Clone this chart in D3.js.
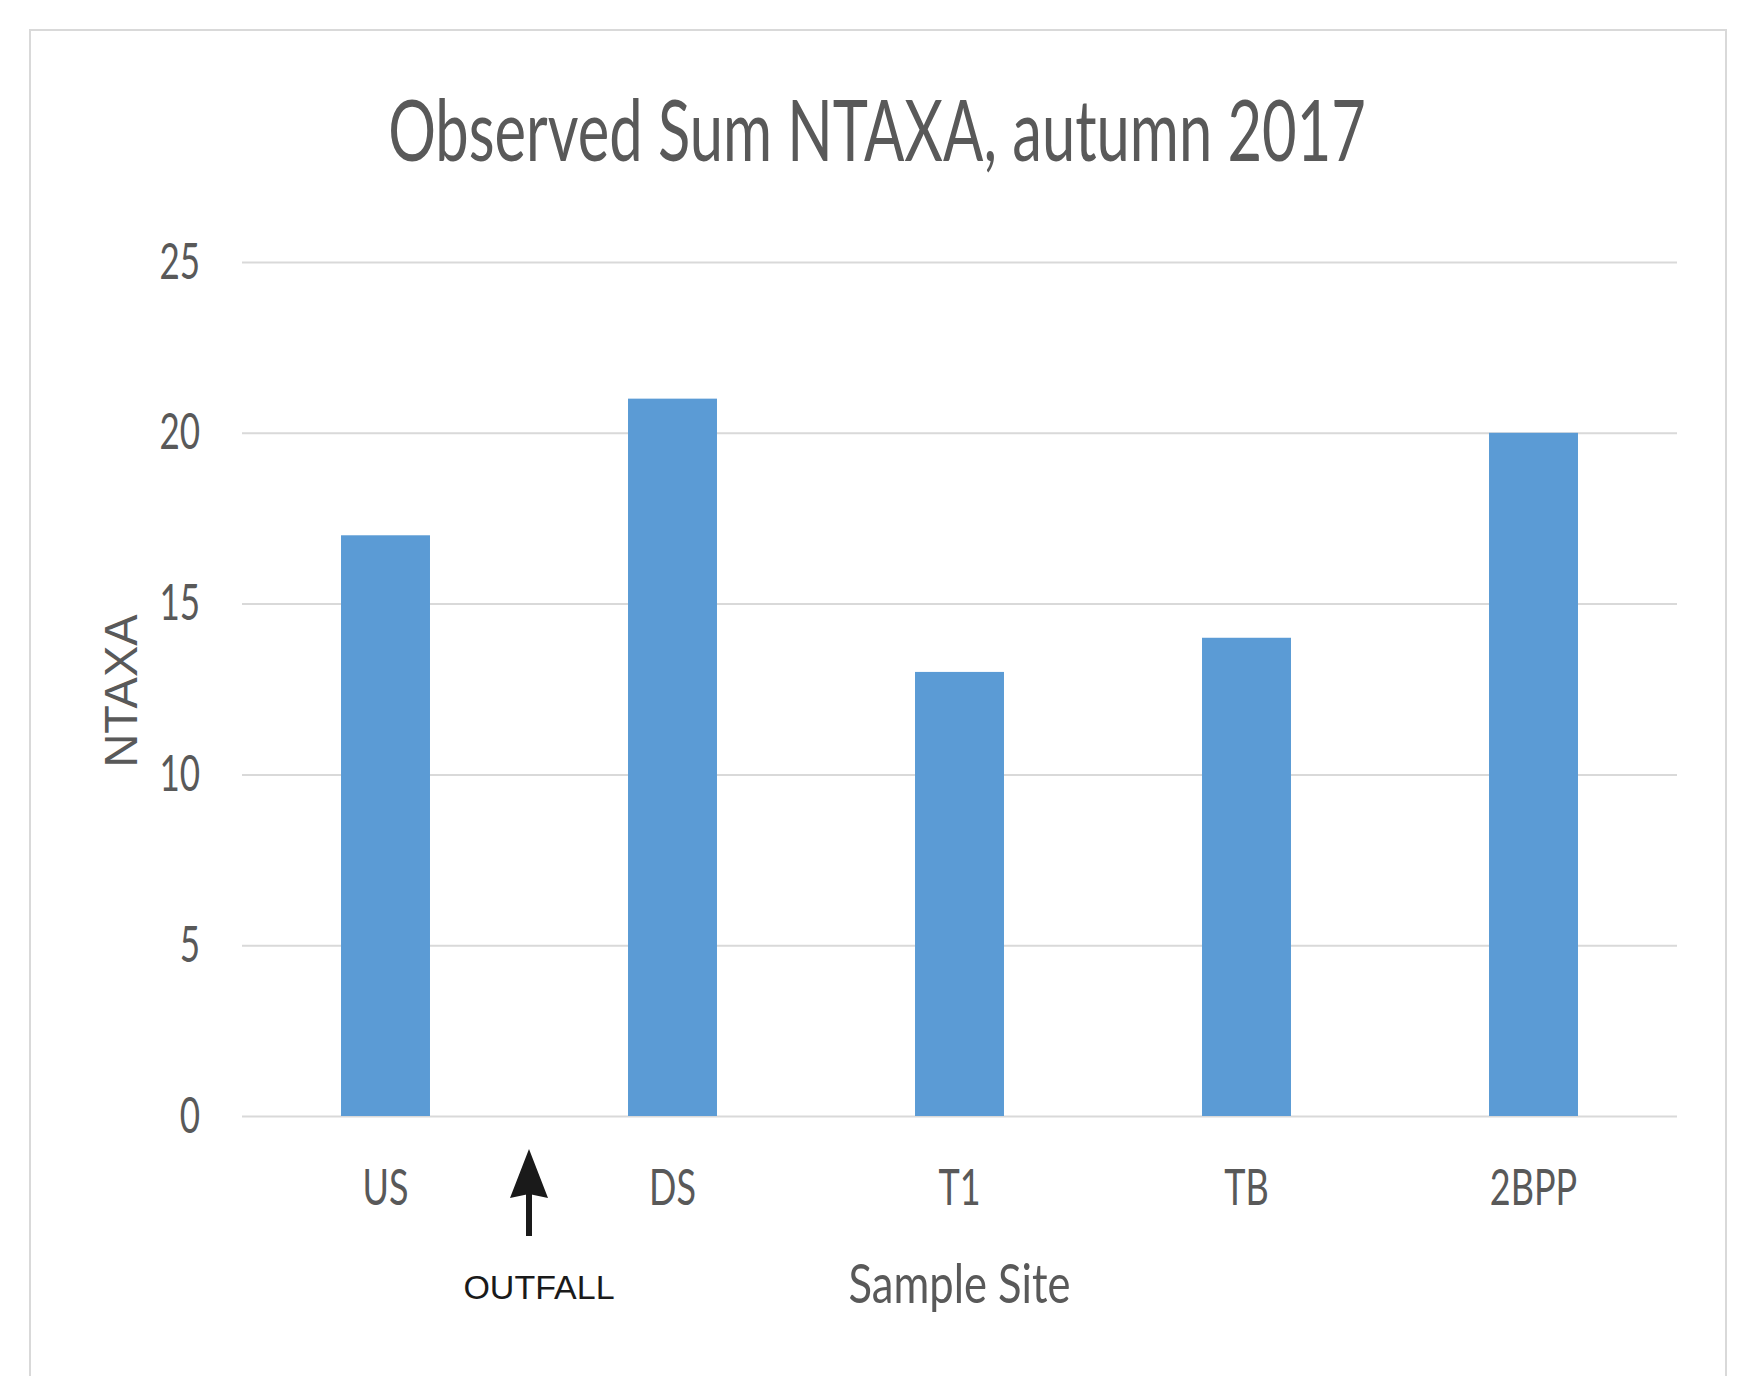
<!DOCTYPE html>
<html>
<head>
<meta charset="utf-8">
<script src="https://cdn.jsdelivr.net/npm/d3@7"></script>
<style>
  body { margin: 0; background: #fff; }
  .tick text { font-family: Lato, "Noto Sans", sans-serif; fill: #595959; }
</style>
</head>
<body>
<script>
// data
const sites = ["US", "DS", "T1", "TB", "2BPP"];
const ntaxa = [17, 21, 13, 14, 20];
const yTicks = [0, 5, 10, 15, 20, 25];

const chartTitle = "Observed Sum NTAXA, autumn 2017";
const xAxisLabel = "Sample Site";
const yAxisLabel = "NTAXA";
const noteLabel = "OUTFALL";

// width and height
const w = 1757;
const h = 1376;
const margin = { top: 262, right: 80, bottom: 260, left: 242 };

const dataset = sites.map((s, i) => ({ site: s, value: ntaxa[i] }));

// squeeze text horizontally, like the narrow font in the original
const squeeze = (sel, factor) => {
  sel.each(function () {
    const len = this.getComputedTextLength();
    d3.select(this)
      .attr("textLength", len * factor)
      .attr("lengthAdjust", "spacingAndGlyphs");
  });
};

// centred text narrowed to a target width with a scale transform
const narrowText = (x, y, size, target, label) => {
  const t = svg
    .append("text")
    .attr("text-anchor", "middle")
    .attr("font-family", "Lato, sans-serif")
    .attr("font-size", size)
    .attr("fill", "#595959")
    .text(label);
  const k = target / t.node().getComputedTextLength();
  t.attr("transform", `translate(${x},${y}) scale(${k},1)`);
  return t;
};

const svg = d3
  .select("body")
  .append("svg")
  .attr("width", w)
  .attr("height", h);

// outer chart border
svg
  .append("rect")
  .attr("x", 30)
  .attr("y", 30)
  .attr("width", 1696)
  .attr("height", 1400)
  .attr("fill", "#fff")
  .attr("stroke", "#d9d9d9")
  .attr("stroke-width", 2);

// scales
const xScale = d3
  .scaleBand()
  .domain(sites)
  .range([margin.left, w - margin.right])
  .paddingInner(0.69)
  .paddingOuter(0.345);

const yScale = d3
  .scaleLinear()
  .domain([0, 25])
  .range([h - margin.bottom, margin.top]);

// y axis with gridlines
const yAxis = d3
  .axisLeft(yScale)
  .tickValues(yTicks)
  .tickSize(-(w - margin.left - margin.right))
  .tickPadding(42);

const gy = svg
  .append("g")
  .attr("class", "y axis")
  .attr("transform", `translate(${margin.left},0)`)
  .call(yAxis);

gy.select(".domain").remove();
gy.selectAll(".tick line").attr("stroke", "#d9d9d9").attr("stroke-width", 2);
gy.selectAll(".tick text").attr("font-size", 50);
squeeze(gy.selectAll(".tick text"), 0.7);

// bars
svg
  .append("g")
  .attr("id", "bars")
  .selectAll("rect")
  .data(dataset)
  .enter()
  .append("rect")
  .attr("x", (d) => xScale(d.site))
  .attr("y", (d) => yScale(d.value))
  .attr("width", xScale.bandwidth())
  .attr("height", (d) => yScale(0) - yScale(d.value))
  .attr("fill", "#5b9bd5");

// x axis
const xAxis = d3.axisBottom(xScale).tickSize(0);

const gx = svg
  .append("g")
  .attr("class", "x axis")
  .attr("transform", `translate(0, ${h - margin.bottom})`)
  .call(xAxis);

gx.select(".domain").remove();
gx.selectAll(".tick text")
  .attr("font-size", 50)
  .attr("y", 89)
  .attr("dy", null);
squeeze(gx.selectAll(".tick text"), 0.72);

// title
narrowText(877, 161, 85, 978, chartTitle);

// x axis label
narrowText((margin.left + w - margin.right) / 2, 1303, 54, 222, xAxisLabel);

// y axis label
svg
  .append("text")
  .attr("transform", "rotate(-90)")
  .attr("x", -(margin.top + h - margin.bottom) / 2 - 2)
  .attr("y", 137)
  .attr("text-anchor", "middle")
  .attr("font-family", "'Liberation Sans', Arial, sans-serif")
  .attr("font-size", 47)
  .attr("fill", "#595959")
  .text(yAxisLabel);

// outfall arrow, between US and DS
const arrowX =
  (xScale("US") + xScale("DS")) / 2 + xScale.bandwidth() / 2;

svg
  .append("line")
  .attr("x1", arrowX)
  .attr("x2", arrowX)
  .attr("y1", 1236)
  .attr("y2", 1190)
  .attr("stroke", "#1a1a1a")
  .attr("stroke-width", 6);

svg
  .append("path")
  .attr(
    "d",
    `M${arrowX},1149 L${arrowX - 19},1198 L${arrowX},1194 L${arrowX + 19},1198 Z`
  )
  .attr("fill", "#1a1a1a");

svg
  .append("text")
  .attr("x", arrowX + 10)
  .attr("y", 1299)
  .attr("text-anchor", "middle")
  .attr("font-family", "'Liberation Sans', Arial, sans-serif")
  .attr("font-size", 34)
  .attr("fill", "#1a1a1a")
  .text(noteLabel);
</script>
</body>
</html>
